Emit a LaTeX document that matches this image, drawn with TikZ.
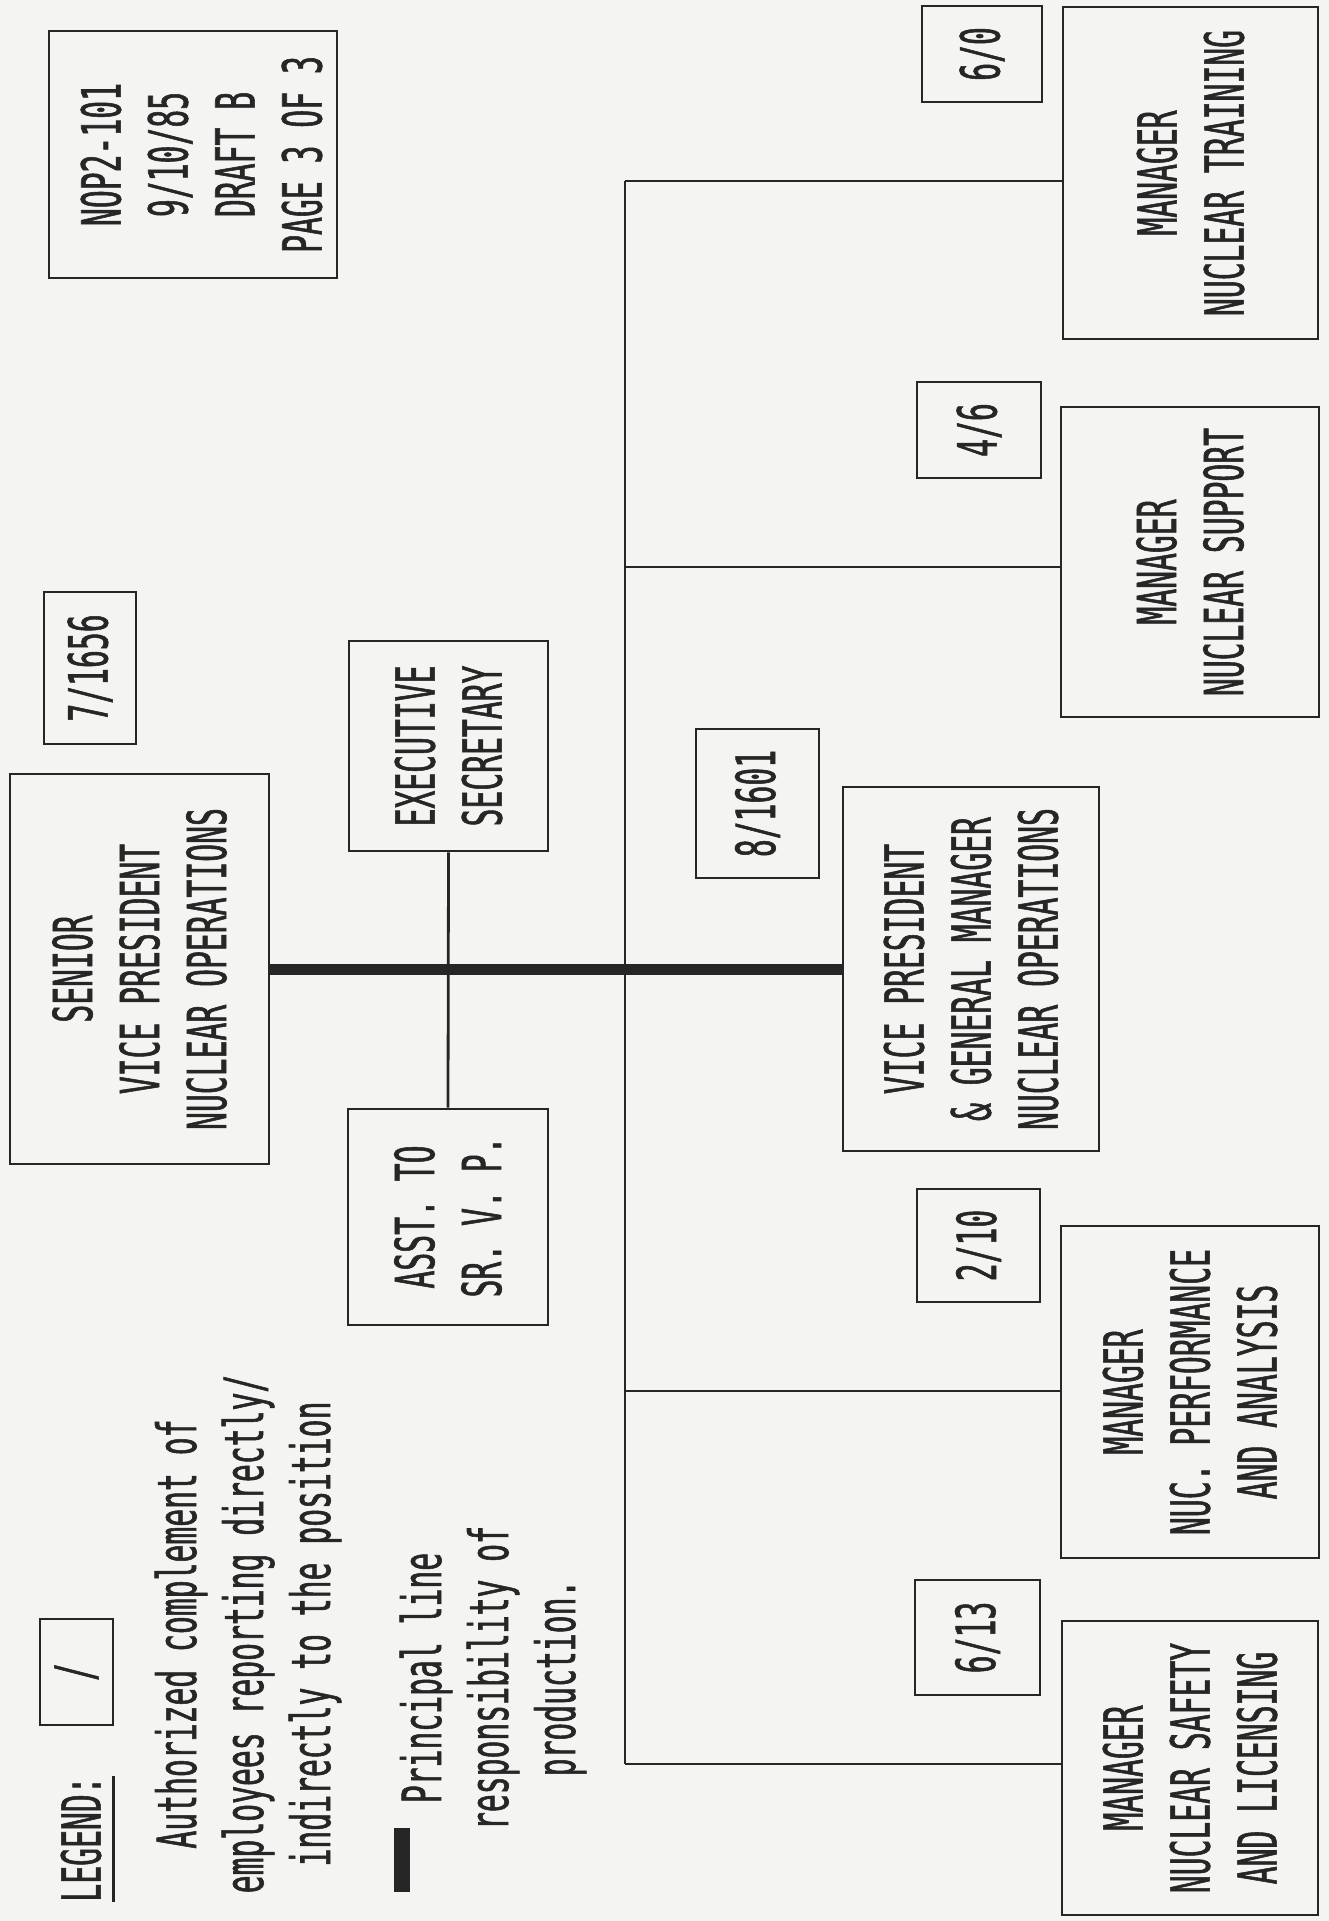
\documentclass[tikz,border=0pt]{standalone}
\usepackage{fontspec}
\newfontfamily\plotfont{DejaVu Sans Mono}[FakeStretch=0.55, FakeBold=1]
\definecolor{ink}{HTML}{262626}
\definecolor{paper}{HTML}{F4F4F2}
\usetikzlibrary{positioning}

\begin{document}
\begin{tikzpicture}[x=1pt, y=-1pt,
  box/.style={draw=ink, line width=2.8pt, rotate=90, inner sep=0pt, align=center,
              text=ink, font=\plotfont\fontsize{54}{67}\selectfont},
  lbl/.style={rotate=90, inner sep=0pt, align=center, text=ink,
              font=\plotfont\fontsize{54}{67}\selectfont},
  link/.style={draw=ink, line width=2.8pt},
  principal/.style={draw=ink, line width=11pt}]
  \useasboundingbox[fill=paper] (0,0) rectangle (1329,1921);
  % page header
  \node[box, minimum width=247pt, minimum height=288pt] (header) at (193,154.5)
    {\rule{0pt}{57pt}NOP2-101\\9/10/85\\DRAFT B\\PAGE 3 OF 3};
  % senior vice president and staff
  \node[box, minimum width=390pt, minimum height=259pt] (svp) at (139.5,969)
    {SENIOR\\VICE PRESIDENT\\NUCLEAR OPERATIONS};
  \node[box, minimum width=152pt, minimum height=92pt] (svpcount) at (90,668) {7/1656};
  \node[box, minimum width=210pt, minimum height=199pt] (secretary) at (448.5,746)
    {EXECUTIVE\\SECRETARY};
  \node[box, minimum width=216pt, minimum height=200pt] (assistant) at (448,1217)
    {ASST. TO\\SR. V. P.};
  % vice president
  \node[box, minimum width=364pt, minimum height=256pt] (vp) at (971,969)
    {VICE PRESIDENT\\\& GENERAL MANAGER\\NUCLEAR OPERATIONS};
  \node[box, minimum width=149pt, minimum height=123pt] (vpcount) at (757.5,803.5) {8/1601};
  % managers
  \node[box, minimum width=332pt, minimum height=255pt] (training) at (1190.5,173)
    {MANAGER\\NUCLEAR TRAINING};
  \node[box, minimum width=96pt, minimum height=120pt] (trainingcount) at (982,54) {6/0};
  \node[box, minimum width=310pt, minimum height=258pt] (support) at (1190,562)
    {MANAGER\\NUCLEAR SUPPORT};
  \node[box, minimum width=96pt, minimum height=124pt] (supportcount) at (979,430) {4/6};
  \node[box, minimum width=332pt, minimum height=258pt] (performance) at (1190,1392)
    {MANAGER\\NUC. PERFORMANCE\\AND ANALYSIS};
  \node[box, minimum width=113pt, minimum height=123pt] (performancecount) at (978.5,1245.5) {2/10};
  \node[box, minimum width=294pt, minimum height=256pt] (safety) at (1190,1768)
    {MANAGER\\NUCLEAR SAFETY\\AND LICENSING};
  \node[box, minimum width=115pt, minimum height=125pt] (safetycount) at (977.5,1637.5) {6/13};
  % connectors
  \draw[link] (secretary.west) -- (assistant.east);
  \draw[principal] (svp.south) -- (vp.north);
  \coordinate (bustop) at (625,181);
  \coordinate (bussupport) at (625,567);
  \coordinate (busperformance) at (625,1391);
  \coordinate (busbottom) at (625,1764);
  \draw[link] (bustop) -- (busbottom);
  \draw[link] (bustop) -- (bustop -| training.north);
  \draw[link] (bussupport) -- (bussupport -| support.north);
  \draw[link] (busperformance) -- (busperformance -| performance.north);
  \draw[link] (busbottom) -- (busbottom -| safety.north);
  % legend
  \node[lbl, inner ysep=12pt] (legend) at (81,1839) {LEGEND:};
  \draw[link] (legend.south west) -- (legend.south east);
  \node[box, minimum width=106pt, minimum height=73pt] (legbox) at (76.5,1672) {/};
  \node[lbl] (legcount) at (248,1634)
    {Authorized complement of\\employees reporting directly/\\indirectly to the position};
  \node[fill=ink, minimum width=16pt, minimum height=64pt, inner sep=0pt] (swatch) at (402,1859.5) {};
  \node[lbl] (legline) at (493,1678)
    {Principal line\\responsibility of\\production.};
\end{tikzpicture}
\end{document}
